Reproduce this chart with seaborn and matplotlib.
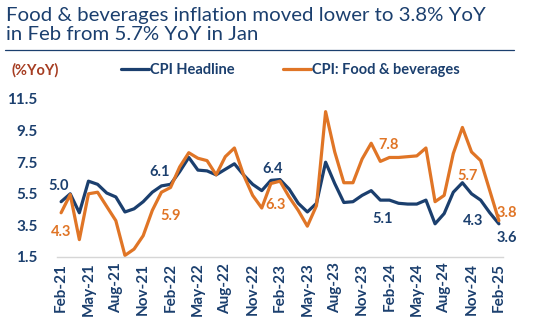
import matplotlib
matplotlib.use("Agg")
import matplotlib.pyplot as plt
from matplotlib.lines import Line2D
import seaborn as sns
import pandas as pd

# Monthly YoY inflation, Feb-21 .. Feb-25
months = pd.date_range("2021-02-01", "2025-02-01", freq="MS").strftime("%b-%y").tolist()
headline = [5.0, 5.5, 4.3, 6.3, 6.1, 5.55, 5.3, 4.35, 4.55, 5.0, 5.6, 6.0,
            6.1, 6.9, 7.8, 7.0, 6.95, 6.7, 7.05, 7.4, 6.7, 6.1, 5.7, 6.35,
            6.4, 5.8, 4.9, 4.35, 4.9, 7.5, 6.15, 4.95, 5.0, 5.4, 5.7, 5.1,
            5.1, 4.9, 4.85, 4.85, 5.1, 3.6, 4.25, 5.6, 6.2, 5.5, 5.1, 4.3, 3.6]
food = [4.3, 5.45, 2.6, 5.5, 5.6, 4.7, 3.8, 1.6, 2.0, 2.85, 4.45, 5.6,
        5.9, 7.2, 8.1, 7.75, 7.6, 6.7, 7.85, 8.4, 6.7, 5.4, 4.6, 6.15,
        6.3, 5.3, 4.45, 3.45, 4.75, 10.7, 8.15, 6.2, 6.2, 7.7, 8.7, 7.55,
        7.8, 7.8, 7.85, 7.9, 8.4, 5.0, 5.4, 8.05, 9.7, 8.15, 7.6, 5.7, 3.8]

xtick_labels = ["Feb-21", "May-21", "Aug-21", "Nov-21", "Feb-22", "May-22",
                "Aug-22", "Nov-22", "Feb-23", "May-23", "Aug-23", "Nov-23",
                "Feb-24", "May-24", "Aug-24", "Nov-24", "Feb-25"]
ytick_values = [1.5, 3.5, 5.5, 7.5, 9.5, 11.5]
title_lines = ["Food & beverages inflation moved lower to 3.8% YoY",
               "in Feb from 5.7% YoY in Jan"]

# Labelled points: month index, pixel offsets for headline and food labels
label_idx = [0, 12, 24, 36, 47, 48]
head_off = [(-3, 16), (-11, 12), (-7, 11), (-7, -19), (-17, -8), (8, -14)]
food_off = [(0, -19), (0, -29), (-4, -24), (-1, 12), (-22, 15), (8, 8)]

NAVY = "#1b3f6e"
ORANGE = "#e07526"
BROWN = "#a63d22"

sns.set_theme(style="white")
plt.rcParams["font.family"] = ["Lato", "DejaVu Sans"]

df = pd.DataFrame({"i": range(len(months)), "month": months,
                   "CPI Headline": headline, "CPI: Food & beverages": food})

fig = plt.figure(figsize=(5.33, 3.25), dpi=100)
ax = fig.add_axes([57 / 533, 1 - 257 / 325, (503 - 57) / 533, (257 - 99) / 325])

sns.lineplot(data=df, x="i", y="CPI Headline", ax=ax, color=NAVY, lw=2.3,
             solid_joinstyle="round", solid_capstyle="round", clip_on=False)
sns.lineplot(data=df, x="i", y="CPI: Food & beverages", ax=ax, color=ORANGE, lw=2.3,
             solid_joinstyle="round", solid_capstyle="round", clip_on=False)

ax.set_xlim(-0.45, 48.45)
ax.set_ylim(1.5, 11.5)
ax.set_xlabel("")
ax.set_ylabel("")

ax.set_xticks(range(0, len(months), 3))
ax.set_xticklabels(xtick_labels, rotation=90, fontsize=11, fontweight="bold", color=NAVY)
ax.set_yticks(ytick_values)
ax.set_yticklabels([f"{v:.1f}" for v in ytick_values], fontsize=11,
                   fontweight="bold", color=NAVY)
ax.tick_params(axis="y", length=0, pad=14)
ax.tick_params(axis="x", length=0, pad=4)

for s in ["top", "right", "left"]:
    ax.spines[s].set_visible(False)
ax.spines["bottom"].set_color("#d6d6d6")
ax.spines["bottom"].set_linewidth(1)

for i, ho, fo in zip(label_idx, head_off, food_off):
    ax.annotate(f"{headline[i]:.1f}", xy=(i, headline[i]), xytext=ho,
                textcoords="offset pixels", ha="center", va="center",
                fontsize=10.5, fontweight="bold", color=NAVY)
    ax.annotate(f"{food[i]:.1f}", xy=(i, food[i]), xytext=fo,
                textcoords="offset pixels", ha="center", va="center",
                fontsize=10.5, fontweight="bold", color=ORANGE)

# Title (two lines on fixed baselines) and rule
for line, base in zip(title_lines, [21, 40]):
    fig.text(6 / 533, 1 - base / 325, line, ha="left", va="baseline",
             fontsize=14.7, color=NAVY)
fig.add_artist(Line2D([5 / 533, 514 / 533], [1 - 50 / 325, 1 - 50 / 325],
                      color=NAVY, lw=0.9))

# Unit label and legend
fig.text(12 / 533, 1 - 70 / 325, "(%YoY)", ha="left", va="center",
         fontsize=10.5, fontweight="bold", color=BROWN)
leg = ax.legend(handles=[Line2D([], [], color=NAVY, lw=2.3),
                         Line2D([], [], color=ORANGE, lw=2.3)],
                labels=["CPI Headline", "CPI: Food & beverages"],
                loc="center left", bbox_to_anchor=(108 / 533, 1 - 70 / 325),
                bbox_transform=fig.transFigure, ncol=2, frameon=False,
                handlelength=1.9, handletextpad=0.1, columnspacing=3.3,
                prop={"size": 10.5, "weight": "bold"})
for t in leg.get_texts():
    t.set_color(NAVY)

fig.savefig("out.png", dpi=100)
